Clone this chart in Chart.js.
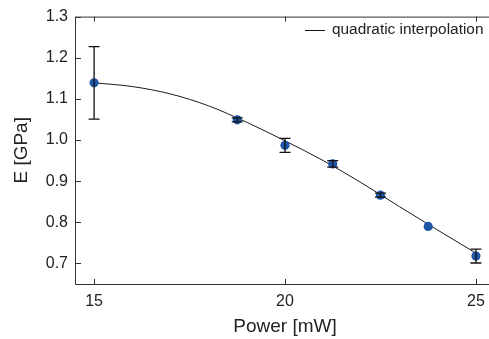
<!DOCTYPE html>
<html>
<head>
<meta charset="utf-8">
<script src="https://cdn.jsdelivr.net/npm/chart.js@4.4.0/dist/chart.umd.min.js"></script>
<style>
html, body { margin: 0; padding: 0; overflow: hidden; background: #fff; }
canvas { display: block; }
</style>
</head>
<body>
<canvas id="c" width="500" height="339" style="width:500px;height:339px"></canvas>
<script>
// Measured points
const powers = [15, 18.75, 20, 21.25, 22.5, 23.75, 25];
const modulus = [1.139, 1.049, 0.987, 0.942, 0.866, 0.790, 0.718];
const errors = [0.088, 0.005, 0.017, 0.008, 0.005, 0, 0.017];
// Interpolation curve
const curveX = [15, 16, 17, 18, 19, 20, 21, 22, 23, 24, 25];
const curveY = [1.139, 1.130, 1.112, 1.083, 1.043, 0.998, 0.950, 0.896, 0.838, 0.781, 0.725];
// Ticks
const xTicks = [15, 20, 25];
const yTicks = [0.7, 0.8, 0.9, 1.0, 1.1, 1.2, 1.3];
const legendLabel = 'quadratic interpolation';
const xTitle = 'Power [mW]';
const yTitle = 'E [GPa]';

const AXIS = '#333333';
const TEXT = '#222222';
const FONT = 'Liberation Sans, Arial, Helvetica, sans-serif';

const framePlugin = {
  id: 'frame',
  afterDatasetsDraw(chart) {
    const ctx = chart.ctx;
    const xs = chart.scales.x, ys = chart.scales.y;
    ctx.save();
    ctx.strokeStyle = '#111';
    ctx.lineWidth = 1.3;
    powers.forEach((p, i) => {
      if (!errors[i]) return;
      const px = xs.getPixelForValue(p);
      const yt = ys.getPixelForValue(modulus[i] + errors[i]);
      const yb = ys.getPixelForValue(modulus[i] - errors[i]);
      ctx.beginPath();
      ctx.moveTo(px, yt); ctx.lineTo(px, yb);
      ctx.moveTo(px - 5.5, yt); ctx.lineTo(px + 5.5, yt);
      ctx.moveTo(px - 5.5, yb); ctx.lineTo(px + 5.5, yb);
      ctx.stroke();
    });
    ctx.restore();
  },
  afterDraw(chart) {
    const ctx = chart.ctx;
    const a = chart.chartArea;
    const xs = chart.scales.x, ys = chart.scales.y;
    ctx.save();
    ctx.strokeStyle = AXIS;
    ctx.lineWidth = 1;
    ctx.beginPath();
    ctx.moveTo(a.left + 0.5, a.top + 0.5); ctx.lineTo(a.left + 0.5, a.bottom + 0.5);
    ctx.lineTo(a.right, a.bottom + 0.5);
    ctx.moveTo(a.left, a.top + 0.5); ctx.lineTo(a.right, a.top + 0.5);
    xTicks.forEach(v => {
      const px = Math.round(xs.getPixelForValue(v)) + 0.5;
      ctx.moveTo(px, a.bottom); ctx.lineTo(px, a.bottom - 5);
      ctx.moveTo(px, a.top); ctx.lineTo(px, a.top + 5);
    });
    yTicks.forEach(v => {
      const py = Math.round(ys.getPixelForValue(v)) + 0.5;
      ctx.moveTo(a.left, py); ctx.lineTo(a.left + 6, py);
    });
    ctx.stroke();
    // legend
    ctx.strokeStyle = '#111';
    ctx.beginPath();
    ctx.moveTo(305, 30.5); ctx.lineTo(325, 30.5);
    ctx.stroke();
    ctx.fillStyle = TEXT;
    ctx.font = '15.4px ' + FONT;
    ctx.textBaseline = 'middle';
    ctx.textAlign = 'left';
    ctx.fillText(legendLabel, 332, 30);
    ctx.restore();
  }
};

new Chart(document.getElementById('c'), {
  type: 'scatter',
  data: {
    datasets: [
      {
        type: 'line',
        data: curveX.map((x, i) => ({x, y: curveY[i]})),
        borderColor: '#1a1a1a',
        borderWidth: 1,
        pointRadius: 0,
        cubicInterpolationMode: 'monotone',
        fill: false,
        order: 2
      },
      {
        data: powers.map((x, i) => ({x, y: modulus[i]})),
        backgroundColor: '#1f56a6',
        borderColor: '#1f56a6',
        borderWidth: 0,
        pointRadius: 4.6,
        order: 1
      }
    ]
  },
  options: {
    responsive: false,
    animation: false,
    devicePixelRatio: 1,
    layout: { padding: { top: 15, right: 5, left: 0, bottom: 0 } },
    plugins: { legend: { display: false }, tooltip: { enabled: false } },
    scales: {
      x: {
        type: 'linear',
        min: 14.5,
        max: 25.5,
        afterBuildTicks: s => { s.ticks = xTicks.map(v => ({value: v})); },
        afterFit: s => { s.height = 55; },
        grid: { display: false, drawTicks: false },
        border: { display: false },
        ticks: { color: TEXT, font: { family: FONT, size: 16 }, padding: 8, maxRotation: 0,
                 callback: v => String(v) },
        title: { display: true, text: xTitle, color: TEXT, font: { family: FONT, size: 19 },
                 padding: { top: 0, bottom: 1 } }
      },
      y: {
        type: 'linear',
        min: 0.65,
        max: 1.3,
        afterBuildTicks: s => { s.ticks = yTicks.map(v => ({value: v})); },
        afterFit: s => { s.width = 75; },
        grid: { display: false, drawTicks: false },
        border: { display: false },
        ticks: { color: TEXT, font: { family: FONT, size: 16 }, padding: 7,
                 callback: v => Number(v).toFixed(1) },
        title: { display: true, text: yTitle, color: TEXT, font: { family: FONT, size: 19 },
                 padding: { top: 10, bottom: 0 } }
      }
    }
  },
  plugins: [framePlugin]
});
</script>
</body>
</html>
